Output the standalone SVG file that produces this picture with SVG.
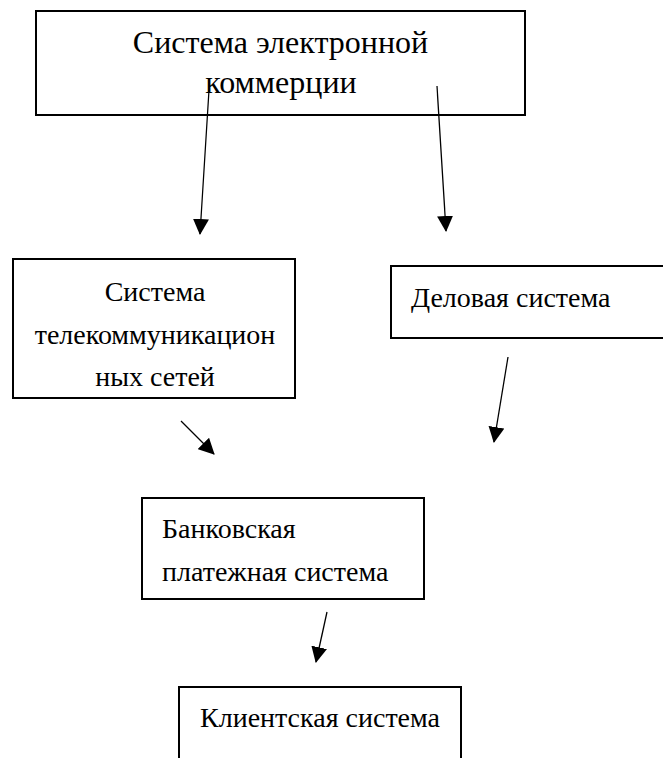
<svg xmlns="http://www.w3.org/2000/svg" width="663" height="758" viewBox="0 0 663 758">
  <style>
    .box { fill: #fff; stroke: #000; stroke-width: 2; }
    .t { font-family: "Liberation Serif", "Times New Roman", serif; font-size: 28px; fill: #000; }
    .big { font-size: 32px; }
    .c { text-anchor: middle; }
    .conn { stroke: #000; stroke-width: 1.3; fill: none; marker-end: url(#ah); }
  </style>
  <defs>
    <marker id="ah" markerUnits="userSpaceOnUse" markerWidth="16" markerHeight="16" viewBox="0 0 16 16" refX="15" refY="8" orient="auto">
      <path d="M0,0 L16,8 L0,16 Z" fill="#000"/>
    </marker>
  </defs>
  <rect width="663" height="758" fill="#fff"/>
  <g id="node-ecommerce">
    <rect class="box" x="36" y="11" width="489" height="104"/>
    <text class="t big c" x="280.5" y="53">Система электронной</text>
    <text class="t big c" x="281" y="93">коммерции</text>
  </g>
  <g id="node-telecom">
    <rect class="box" x="13" y="259" width="282" height="139"/>
    <text class="t c" x="155" y="301">Система</text>
    <text class="t c" x="155" y="344">телекоммуникацион</text>
    <text class="t c" x="155" y="386">ных сетей</text>
  </g>
  <g id="node-business">
    <rect class="box" x="391" y="266" width="300" height="72"/>
    <text class="t" x="411" y="307">Деловая система</text>
  </g>
  <g id="node-bank">
    <rect class="box" x="142" y="498" width="282" height="101"/>
    <text class="t" x="162" y="538">Банковская</text>
    <text class="t" x="162" y="581">платежная система</text>
  </g>
  <g id="node-client">
    <rect class="box" x="179" y="687" width="282" height="90"/>
    <text class="t" x="200" y="727">Клиентская система</text>
  </g>
  <g id="connectors">
    <line class="conn" x1="209" y1="90" x2="200" y2="234"/>
    <line class="conn" x1="437" y1="86" x2="446" y2="231"/>
    <line class="conn" x1="181" y1="421" x2="214" y2="454"/>
    <line class="conn" x1="508" y1="357" x2="494" y2="442"/>
    <line class="conn" x1="327" y1="612" x2="316" y2="662"/>
  </g>
</svg>
